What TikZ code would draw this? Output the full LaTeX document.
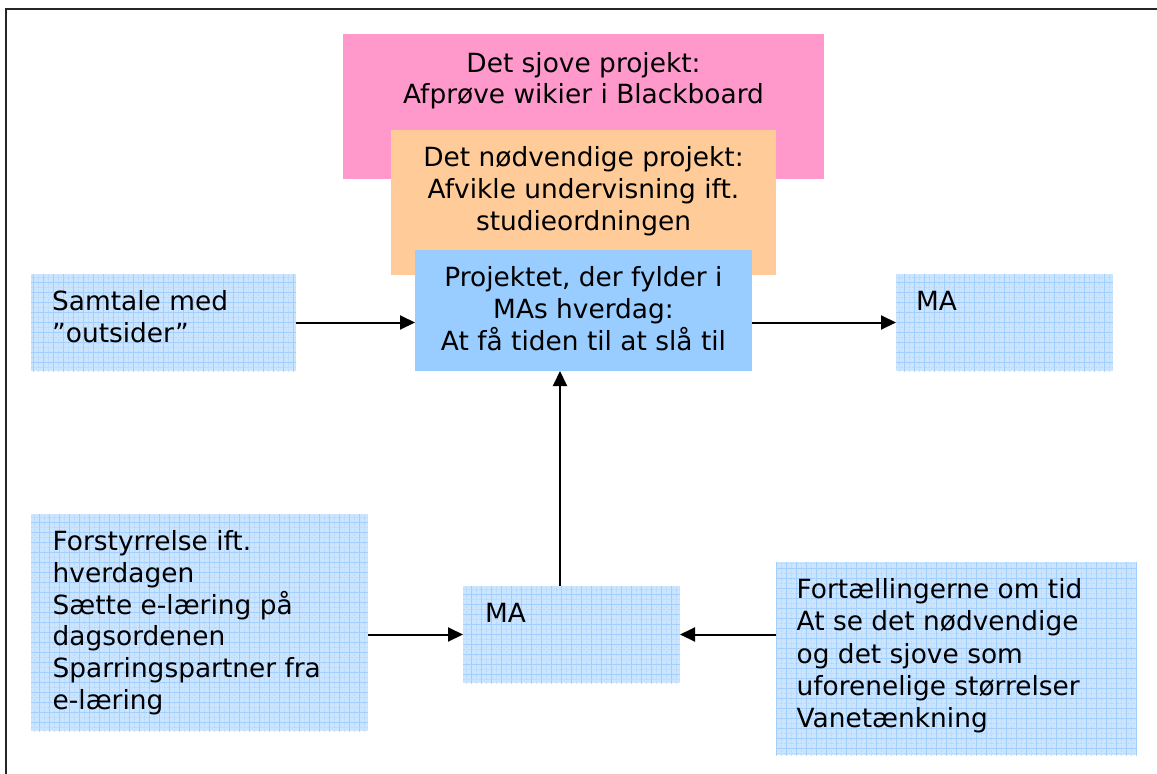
\documentclass[tikz,border=0pt]{standalone}
\usepackage{fontspec}
\setmainfont{DejaVu Sans}
\usetikzlibrary{arrows.meta}
\definecolor{pinkfill}{HTML}{FF99CC}
\definecolor{orangefill}{HTML}{FFCC99}
\definecolor{bluefill}{HTML}{99CCFF}
\definecolor{gridfill}{HTML}{CCE5FF}
\definecolor{gridline}{HTML}{A3CFFF}
\definecolor{griddot}{HTML}{B5D9FF}
\tikzset{
  solidbox/.style={anchor=north west, inner sep=0pt, outer sep=0pt, draw=none},
  gridbox/.style={solidbox, fill=gridfill,
    path picture={
      \draw[griddot, line width=0.6pt, densely dotted]
        ([xshift=-5pt,yshift=-5pt]path picture bounding box.south west) grid[step=5pt]
        (path picture bounding box.north east);
      \draw[gridline, line width=1pt]
        (path picture bounding box.south west) grid[step=10pt]
        (path picture bounding box.north east);
    }},
  txt/.style={inner sep=0pt, font=\fontsize{26.4}{31.7}\selectfont},
  arrow/.style={line width=2pt, -{Triangle[length=15pt, width=14pt]}},
  frame/.style={line width=2.2pt, black!85}
}
\begin{document}
\begin{tikzpicture}[x=1pt, y=-1pt]
  \useasboundingbox (0,0) rectangle (1157,774);
  \fill[white] (0,0) rectangle (1157,774);

  % outer frame (only its top and left edges lie inside the page)
  \draw[frame] (6,780) -- (6,9) -- (1165,9);

  % stacked project boxes
  \node[solidbox, fill=pinkfill, minimum width=481pt, minimum height=145pt] (sjove) at (343,34) {};
  \node[solidbox, fill=orangefill, minimum width=385pt, minimum height=145pt] (noedv) at (391,130) {};
  \node[solidbox, fill=bluefill, minimum width=337pt, minimum height=121pt] (center) at (415,250) {};

  % multi-line texts are anchored at the baseline of their last line
  \node[txt, align=center, anchor=base, font=\fontsize{26.4}{31}\selectfont] (sjove-t) at (583.5,103)
    {Det sjove projekt:\\Afprøve wikier i Blackboard};
  \node[txt, align=center, anchor=base, font=\fontsize{26.4}{32}\selectfont] (noedv-t) at (583.5,230.7)
    {Det nødvendige projekt:\\Afvikle undervisning ift.\\studieordningen};
  \node[txt, align=center, anchor=base, font=\fontsize{26.4}{32}\selectfont] (center-t) at (583.5,350.7)
    {Projektet, der fylder i\\MAs hverdag:\\At få tiden til at slå til};

  % grid-patterned boxes
  \node[gridbox, minimum width=265pt, minimum height=97pt] (samtale) at (31,274) {};
  \node[gridbox, minimum width=217pt, minimum height=97pt] (maright) at (896,274) {};
  \node[gridbox, minimum width=337pt, minimum height=217pt] (forstyr) at (31,514) {};
  \node[gridbox, minimum width=217pt, minimum height=97pt] (mabottom) at (463,586) {};
  \node[gridbox, minimum width=361pt, minimum height=193pt] (fortael) at (776,562) {};

  \node[txt, align=left, anchor=base west] (samtale-t) at (52,342.4)
    {Samtale med\\”outsider”};
  \node[txt, anchor=base west] (maright-t) at (916,310) {MA};
  \node[txt, anchor=base west] (mabottom-t) at (485,622.7) {MA};
  \node[txt, align=left, anchor=base west] (forstyr-t) at (52.5,709.2)
    {Forstyrrelse ift.\\hverdagen\\Sætte e-læring på\\dagsordenen\\Sparringspartner fra\\e-læring};
  \node[txt, align=left, anchor=base west, font=\fontsize{26.4}{32.4}\selectfont] (fortael-t) at (796.5,727.9)
    {Fortællingerne om tid\\At se det nødvendige\\og det sjove som\\uforenelige størrelser\\Vanetænkning};

  % connectors
  \draw[arrow] (samtale.east) -- (samtale.east -| center.west);
  \draw[arrow] (maright.west -| center.east) -- (maright.west);
  \coordinate (up) at ([xshift=-11.5pt]mabottom.north);
  \draw[arrow] (up) -- (up |- center.south);
  \draw[arrow] (forstyr.east |- mabottom.west) -- (mabottom.west);
  \draw[arrow] (fortael.west |- mabottom.east) -- (mabottom.east);
\end{tikzpicture}
\end{document}
